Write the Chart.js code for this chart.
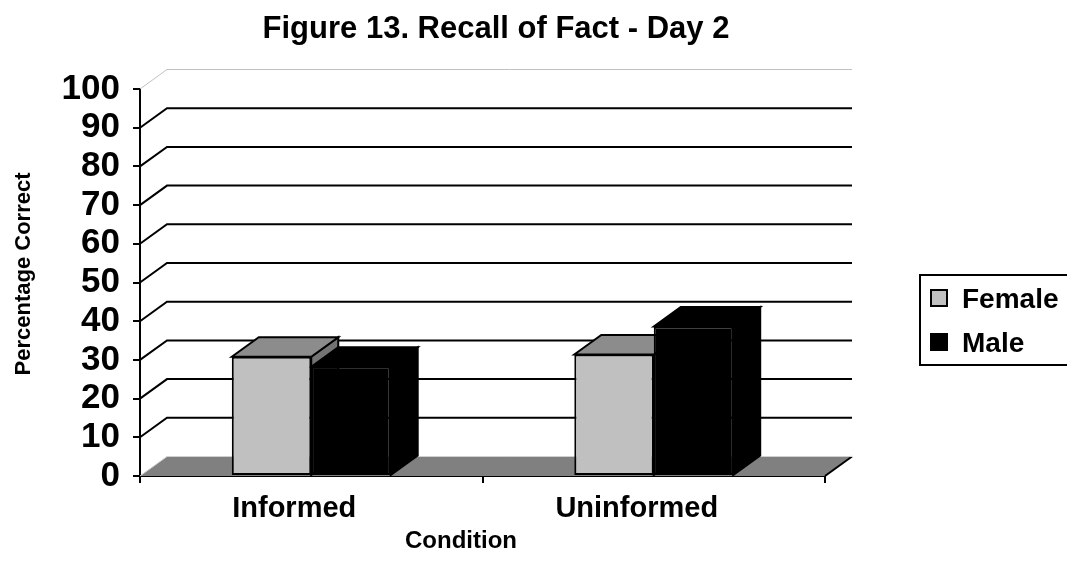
<!DOCTYPE html>
<html>
<head>
<meta charset="utf-8">
<script src="https://cdn.jsdelivr.net/npm/chart.js@4/dist/chart.umd.min.js"></script>
<style>
  html, body { margin: 0; padding: 0; background: #fff; }
  #wrap { width: 1067px; height: 569px; position: relative; }
</style>
</head>
<body>
<div id="wrap"><canvas id="chart"></canvas></div>
<script>
const categories = ['Informed', 'Uninformed'];
const femaleValues = [30.8, 31.4];
const maleValues = [28.2, 38.6];
const seriesNames = ['Female', 'Male'];

const FONT = 'Liberation Sans, Arial, Helvetica, sans-serif';
const DX = 27, DY = 19.5; // depth of the 3d box

// 3d walls, floor and bar tops/sides, plus titles and legend
const threeD = {
  id: 'threeD',
  beforeDatasetsDraw(chart) {
    const { ctx, chartArea: a, scales: { y } } = chart;
    ctx.save();

    // floor
    ctx.fillStyle = '#808080';
    ctx.beginPath();
    ctx.moveTo(a.left, a.bottom);
    ctx.lineTo(a.right, a.bottom);
    ctx.lineTo(a.right + DX, a.bottom - DY);
    ctx.lineTo(a.left + DX, a.bottom - DY);
    ctx.closePath();
    ctx.fill();
    ctx.strokeStyle = '#000';
    ctx.lineWidth = 2;
    ctx.beginPath();
    ctx.moveTo(a.right, a.bottom);
    ctx.lineTo(a.right + DX, a.bottom - DY);
    ctx.stroke();
    ctx.strokeStyle = '#d0d0d0';
    ctx.lineWidth = 1;
    ctx.beginPath();
    ctx.moveTo(a.left, a.bottom);
    ctx.lineTo(a.left + DX, a.bottom - DY);
    ctx.lineTo(a.right + DX, a.bottom - DY);
    ctx.stroke();

    // gridlines on the side and back walls
    for (let v = 10; v <= 100; v += 10) {
      const py = y.getPixelForValue(v);
      ctx.strokeStyle = v === 100 ? '#c0c0c0' : '#000';
      ctx.lineWidth = v === 100 ? 1 : 2;
      ctx.beginPath();
      ctx.moveTo(a.left, py);
      ctx.lineTo(a.left + DX, py - DY);
      ctx.lineTo(a.right + DX, py - DY);
      ctx.stroke();
    }

    // top and side faces of each bar
    const tops = ['#8c8c8c', '#000'];
    const sides = ['#737373', '#000'];
    chart.data.datasets.forEach((ds, i) => {
      chart.getDatasetMeta(i).data.forEach(bar => {
        const l = bar.x - bar.width / 2, r = bar.x + bar.width / 2;
        const t = bar.y, b = bar.base;
        ctx.lineWidth = 2;
        ctx.strokeStyle = '#000';
        ctx.lineJoin = 'miter';
        ctx.fillStyle = sides[i];
        ctx.beginPath();
        ctx.moveTo(r, t);
        ctx.lineTo(r + DX, t - DY);
        ctx.lineTo(r + DX, b - DY);
        ctx.lineTo(r, b);
        ctx.closePath();
        ctx.fill();
        ctx.stroke();
        ctx.fillStyle = tops[i];
        ctx.beginPath();
        ctx.moveTo(l, t);
        ctx.lineTo(l + DX, t - DY);
        ctx.lineTo(r + DX, t - DY);
        ctx.lineTo(r, t);
        ctx.closePath();
        ctx.fill();
        ctx.stroke();
      });
    });
    ctx.restore();
  },
  afterDraw(chart) {
    const ctx = chart.ctx;
    ctx.save();
    ctx.fillStyle = '#000';
    ctx.textBaseline = 'alphabetic';

    // chart title
    ctx.font = 'bold 31px ' + FONT;
    ctx.textAlign = 'center';
    ctx.fillText('Figure 13. Recall of Fact - Day 2', 496, 38);

    // x title
    ctx.font = 'bold 24px ' + FONT;
    ctx.fillText('Condition', 461, 548);

    // y title
    ctx.save();
    ctx.translate(30, 274);
    ctx.rotate(-Math.PI / 2);
    ctx.font = 'bold 22px ' + FONT;
    ctx.fillText('Percentage Correct', 0, 0);
    ctx.restore();

    // legend box
    ctx.strokeStyle = '#000';
    ctx.lineWidth = 2;
    ctx.strokeRect(920, 275, 160, 90);
    const fills = ['#c0c0c0', '#000'];
    ctx.textAlign = 'left';
    ctx.font = 'bold 28px ' + FONT;
    seriesNames.forEach((name, i) => {
      const top = 290 + i * 44;
      ctx.fillStyle = fills[i];
      ctx.fillRect(931, top, 16, 16);
      ctx.strokeRect(931, top, 16, 16);
      ctx.fillStyle = '#000';
      ctx.fillText(name, 962, top + 18);
    });
    ctx.restore();
  }
};

new Chart(document.getElementById('chart'), {
  type: 'bar',
  data: {
    labels: categories,
    datasets: [
      {
        label: seriesNames[0],
        data: femaleValues,
        backgroundColor: '#c0c0c0',
        borderColor: '#000',
        borderWidth: 2,
        borderSkipped: false
      },
      {
        label: seriesNames[1],
        data: maleValues,
        backgroundColor: '#000',
        borderColor: '#000',
        borderWidth: 2,
        borderSkipped: false
      }
    ]
  },
  options: {
    responsive: true,
    maintainAspectRatio: false,
    animation: false,
    events: [],
    datasets: {
      bar: { categoryPercentage: 0.464, barPercentage: 1 }
    },
    layout: { padding: { top: 89, right: 242, bottom: 0, left: 0 } },
    plugins: {
      legend: { display: false },
      title: { display: false },
      tooltip: { enabled: false }
    },
    scales: {
      x: {
        grid: { offset: true, drawOnChartArea: false, color: '#000', lineWidth: 2, tickLength: 7 },
        border: { color: '#000', width: 2 },
        ticks: {
          color: '#000',
          padding: 9,
          labelOffset: -17,
          font: { family: FONT, size: 29, weight: 'bold' }
        },
        afterFit: s => { s.height = 93; }
      },
      y: {
        min: 0,
        max: 100,
        grid: { drawOnChartArea: false, color: '#000', lineWidth: 2, tickLength: 7 },
        border: { color: '#000', width: 2 },
        ticks: {
          stepSize: 10,
          autoSkip: false,
          color: '#000',
          padding: 13,
          font: { family: FONT, size: 35, weight: 'bold' }
        },
        afterFit: s => { s.width = 140; }
      }
    }
  },
  plugins: [threeD]
});
</script>
</body>
</html>
